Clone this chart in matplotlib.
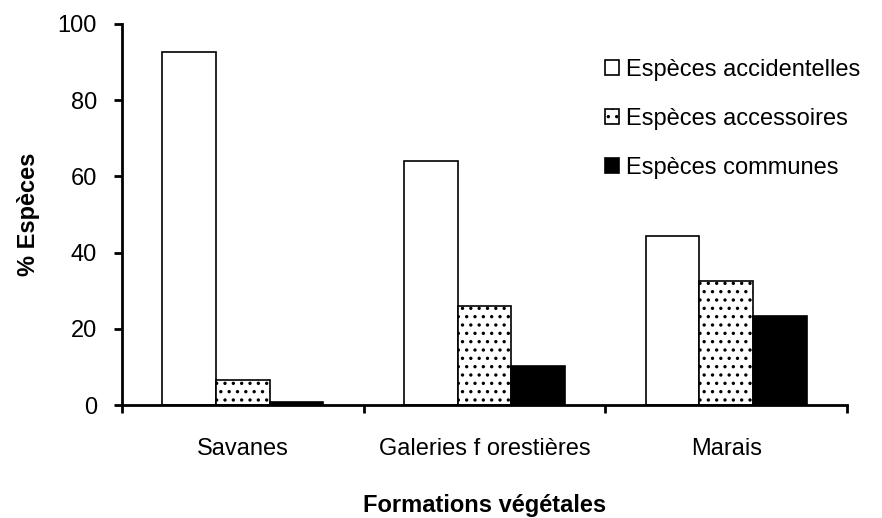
import matplotlib
matplotlib.use("Agg")
import matplotlib.pyplot as plt
import numpy as np

categories = ["Savanes", "Galeries f orestières", "Marais"]
series_names = ["Espèces accidentelles", "Espèces accessoires", "Espèces communes"]
accidentelles = [92.6, 64.0, 44.3]
accessoires = [6.6, 26.0, 32.6]
communes = [0.8, 10.2, 23.4]
yticks = [0, 20, 40, 60, 80, 100]

plt.rcParams['font.family'] = ['Liberation Sans', 'DejaVu Sans']
plt.rcParams['hatch.linewidth'] = 1.2
plt.rcParams['hatch.color'] = '#444444'

FS = 17

fig = plt.figure(figsize=(8.82, 5.18), dpi=100)
ax = fig.add_axes([122/882, 1-405/518, (847-122)/882, (405-24)/518])

x = np.arange(len(categories))
w = 0.222
styles = [
    dict(facecolor='white', edgecolor='black', hatch=None),
    dict(facecolor='white', edgecolor='black', hatch='..'),
    dict(facecolor='black', edgecolor='black', hatch=None),
]
for i, (vals, name, st) in enumerate(zip([accidentelles, accessoires, communes], series_names, styles)):
    ax.bar(x + (i - 1) * w, vals, width=w, label=name, linewidth=1.2, **st)

ax.set_xlim(-0.5, len(categories) - 0.5)
ax.set_ylim(0, 100)
ax.set_yticks(yticks)
ax.set_xticks(x)
ax.set_xticklabels(categories, fontsize=FS)
ax.set_xticks(np.arange(len(categories) + 1) - 0.5, minor=True)
ax.tick_params(axis='x', which='major', length=0, pad=24)
ax.tick_params(axis='x', which='minor', length=6, width=2, direction='out')
ax.tick_params(axis='y', which='major', length=6, width=2, direction='out', labelsize=FS, pad=12)
for s in ['top', 'right']:
    ax.spines[s].set_visible(False)
for s in ['left', 'bottom']:
    ax.spines[s].set_linewidth(2)

ax.set_ylabel("% Espèces", fontsize=FS, fontweight='bold', labelpad=13)
ax.set_xlabel("Formations végétales", fontsize=FS, fontweight='bold', labelpad=24)

leg = ax.legend(loc='upper right', bbox_to_anchor=(1.035, 0.94), frameon=False, fontsize=FS,
                handlelength=0.6, handleheight=0.6, handletextpad=0.3, labelspacing=1.15,
                borderaxespad=0.1)

fig.savefig("out.png", dpi=100)
